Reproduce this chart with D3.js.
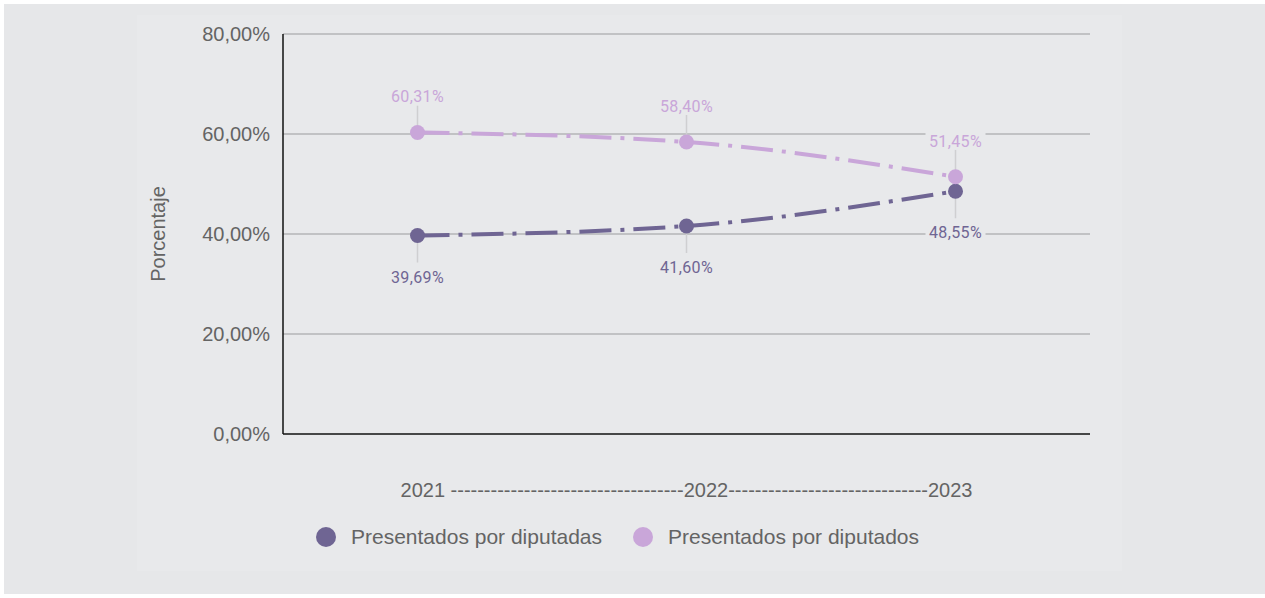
<!DOCTYPE html>
<html>
<head>
<meta charset="utf-8">
<script src="https://cdn.jsdelivr.net/npm/d3@7"></script>
<style>
  body { margin: 0; background: #ffffff; }
  svg { display: block; }
</style>
</head>
<body>
<svg id="chart" width="1265" height="598"></svg>
<script>
// datos
var years = ["2021", "2022", "2023"];
var diputadas = [39.69, 41.60, 48.55];
var diputados = [60.31, 58.40, 51.45];
var yTicks = [0, 20, 40, 60, 80];
var seriesNames = ["Presentados por diputadas", "Presentados por diputados"];
var xTitle = "2021 -----------------------------------2022------------------------------2023";

var colorDark = "#6f6593",
	colorLight = "#c9a6d9";

var svg = d3.select("#chart");

var locale = d3.formatLocale({decimal: ",", thousands: ".", grouping: [3], currency: ["", "€"]});
var fmt = locale.format(".2f");

// fondo
svg.append("rect").attr("x", 4).attr("y", 4).attr("width", 1261).attr("height", 590)
	.attr("fill", "#e6e7e9");
svg.append("rect").attr("x", 137).attr("y", 15).attr("width", 985).attr("height", 556)
	.attr("fill", "#e8e9eb");

// ojo: "top" choca con window.top
var plotLeft = 283, plotRight = 1090, plotTop = 34, plotBottom = 434;

var x = d3.scalePoint().domain(years).range([plotLeft, plotRight]).padding(0.5);
var y = d3.scaleLinear().domain([0, 80]).range([plotBottom, plotTop]);

// rejilla
svg.append("g").selectAll("line").data(yTicks.slice(1)).enter().append("line")
	.attr("x1", plotLeft).attr("x2", plotRight)
	.attr("y1", function(d) { return y(d); })
	.attr("y2", function(d) { return y(d); })
	.attr("stroke", "#b5b5b7").attr("stroke-width", 1.5);

// eje y
var yAxis = d3.axisLeft(y).tickValues(yTicks).tickSize(0).tickPadding(13)
	.tickFormat(function(d) { return fmt(d) + "%"; });
var gy = svg.append("g").attr("transform", "translate(" + plotLeft + ",0)").call(yAxis);
gy.select(".domain").remove();
gy.selectAll("text").attr("fill", "#646464")
	.style("font-family", "'Liberation Sans', Arial, sans-serif").style("font-size", "20px");

svg.append("line").attr("x1", plotLeft).attr("x2", plotLeft).attr("y1", plotTop).attr("y2", plotBottom)
	.attr("stroke", "#111").attr("stroke-width", 1.5);
svg.append("line").attr("x1", plotLeft).attr("x2", plotRight).attr("y1", plotBottom).attr("y2", plotBottom)
	.attr("stroke", "#111").attr("stroke-width", 1.5);

svg.append("text")
	.attr("transform", "translate(165," + ((plotTop + plotBottom) / 2) + ") rotate(-90)")
	.attr("text-anchor", "middle")
	.attr("fill", "#646464")
	.style("font-family", "'Liberation Sans', Arial, sans-serif").style("font-size", "20px")
	.text("Porcentaje");

// titulo del eje x
svg.append("text").attr("x", x("2022")).attr("y", 497).attr("text-anchor", "middle")
	.attr("fill", "#646464")
	.style("font-family", "'Liberation Sans', Arial, sans-serif").style("font-size", "20px")
	.text(xTitle);

var series = [
	{name: seriesNames[0], values: diputadas, color: colorDark, above: false},
	{name: seriesNames[1], values: diputados, color: colorLight, above: true}
];

var line = d3.line()
	.x(function(d, i) { return x(years[i]); })
	.y(function(d) { return y(d); })
	.curve(d3.curveMonotoneX);

// lineas guia de etiquetas
series.forEach(function(s) {
	svg.append("g").selectAll("line").data(s.values).enter().append("line")
		.attr("x1", function(d, i) { return x(years[i]); })
		.attr("x2", function(d, i) { return x(years[i]); })
		.attr("y1", function(d) { return y(d); })
		.attr("y2", function(d) { return s.above ? y(d) - 27 : y(d) + 27; })
		.attr("stroke", "#cfcfd1").attr("stroke-width", 1.5);
});

series.forEach(function(s) {
	svg.append("path").datum(s.values)
		.attr("d", line)
		.attr("fill", "none")
		.attr("stroke", s.color)
		.attr("stroke-width", 4)
		.attr("stroke-dasharray", "32,9,4,9");

	svg.append("g").selectAll("circle").data(s.values).enter().append("circle")
		.attr("cx", function(d, i) { return x(years[i]); })
		.attr("cy", function(d) { return y(d); })
		.attr("r", 7.5)
		.attr("fill", s.color);
});

// etiquetas de datos
series.forEach(function(s) {
	var g = svg.append("g").selectAll("g").data(s.values).enter().append("g")
		.attr("transform", function(d, i) {
			var ty = s.above ? y(d) - 30 : y(d) + 47;
			return "translate(" + x(years[i]) + "," + ty + ")";
		});
	g.append("rect").attr("x", -30).attr("y", -14).attr("width", 60).attr("height", 17)
		.attr("fill", "#e8e9eb");
	g.append("text").attr("text-anchor", "middle")
		.attr("fill", s.color)
		.style("font-family", "Roboto, sans-serif").style("font-size", "16px")
		.style("letter-spacing", "0.4px")
		.text(function(d) { return fmt(d) + "%"; });
});

// leyenda
var legendX = [326, 643];
series.forEach(function(s, i) {
	svg.append("circle").attr("cx", legendX[i]).attr("cy", 537).attr("r", 10).attr("fill", s.color);
	svg.append("text").attr("x", legendX[i] + 25).attr("y", 544)
		.attr("fill", "#646464")
		.style("font-family", "'Liberation Sans', Arial, sans-serif").style("font-size", "21px")
		.text(s.name);
});
</script>
</body>
</html>
